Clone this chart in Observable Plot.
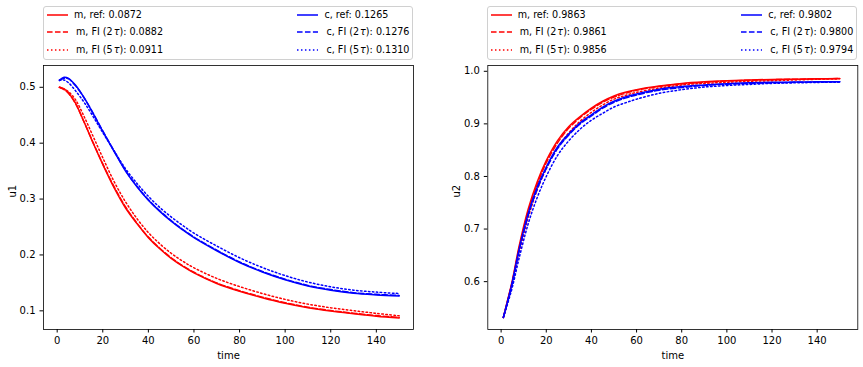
<!DOCTYPE html>
<html>
<head>
<meta charset="utf-8">
<script src="https://cdn.jsdelivr.net/npm/d3@7"></script>
<script src="https://cdn.jsdelivr.net/npm/@observablehq/plot@0.6"></script>
<style>
  html, body { margin: 0; padding: 0; background: white; }
  body { font-family: "DejaVu Sans", sans-serif; font-size: 10px; color: black; }
  #wrap { position: relative; width: 863px; height: 367px; overflow: hidden; }
  .panel { position: absolute; top: 0; }
  .legend { position: relative; height: 62px; }
  .lbox { position: absolute; border: 1px solid #d0d0d0; border-radius: 3px; box-sizing: border-box; }
  .entry { position: absolute; white-space: nowrap; line-height: 12px; font-size: 9.6px; }
  .handle { position: absolute; }
  .panel svg { display: block; }
</style>
</head>
<body>
<div id="wrap"></div>
<script>
// ---------- data ----------
const time = [1,3,5,8,12,16,20,25,30,35,40,45,50,55,60,70,80,90,100,110,120,130,140,150];

// left panel (u1)
const u1_m_ref = [0.500,0.497,0.490,0.472,0.436,0.398,0.362,0.320,0.284,0.256,0.231,0.211,0.194,0.180,0.168,0.149,0.135,0.1235,0.1135,0.1055,0.0995,0.0948,0.0905,0.0872];
const u1_m_fi2 = [0.500,0.496,0.489,0.471,0.436,0.399,0.363,0.322,0.286,0.257,0.232,0.212,0.195,0.181,0.169,0.150,0.136,0.1245,0.1145,0.1065,0.1005,0.0958,0.0915,0.0882];
const u1_m_fi5 = [0.500,0.497,0.492,0.478,0.446,0.410,0.374,0.331,0.295,0.265,0.240,0.220,0.203,0.189,0.177,0.158,0.1435,0.131,0.1205,0.112,0.1055,0.1003,0.0955,0.0911];
const u1_c_ref = [0.513,0.518,0.516,0.504,0.480,0.451,0.421,0.385,0.350,0.322,0.298,0.278,0.2605,0.245,0.231,0.2075,0.1865,0.1695,0.1555,0.1445,0.137,0.1315,0.1285,0.1265];
const u1_c_fi2 = [0.512,0.516,0.515,0.503,0.480,0.452,0.422,0.386,0.351,0.323,0.299,0.279,0.2615,0.246,0.232,0.2085,0.1875,0.1705,0.1565,0.1455,0.138,0.1325,0.1295,0.1276];
const u1_c_fi5 = [0.513,0.513,0.508,0.494,0.472,0.446,0.419,0.386,0.354,0.328,0.305,0.285,0.268,0.253,0.239,0.216,0.195,0.1775,0.163,0.1515,0.143,0.137,0.1335,0.1310];

// right panel (u2)
const u2_m_ref = [0.532,0.567,0.603,0.668,0.738,0.790,0.830,0.868,0.895,0.914,0.930,0.943,0.953,0.960,0.965,0.972,0.977,0.980,0.982,0.9835,0.9845,0.985,0.9858,0.9863];
const u2_m_fi2 = [0.532,0.566,0.601,0.664,0.733,0.785,0.826,0.864,0.892,0.912,0.928,0.941,0.951,0.958,0.964,0.971,0.976,0.979,0.9815,0.983,0.984,0.9848,0.9855,0.9861];
const u2_m_fi5 = [0.532,0.562,0.595,0.655,0.722,0.775,0.815,0.855,0.883,0.905,0.922,0.936,0.947,0.954,0.960,0.968,0.974,0.977,0.979,0.981,0.982,0.9835,0.9848,0.9856];
const u2_c_ref = [0.532,0.565,0.600,0.662,0.730,0.780,0.818,0.856,0.881,0.902,0.917,0.932,0.943,0.951,0.957,0.966,0.971,0.974,0.9765,0.978,0.979,0.9795,0.980,0.9802];
const u2_c_fi2 = [0.532,0.564,0.598,0.659,0.726,0.776,0.815,0.853,0.879,0.900,0.915,0.930,0.941,0.949,0.955,0.964,0.969,0.973,0.9755,0.977,0.978,0.979,0.9796,0.9800];
const u2_c_fi5 = [0.532,0.560,0.590,0.645,0.710,0.760,0.800,0.840,0.868,0.890,0.907,0.920,0.932,0.940,0.947,0.958,0.965,0.970,0.973,0.975,0.977,0.978,0.9788,0.9794];

const seriesKeys = ["m_ref","m_fi2","m_fi5","c_ref","c_fi2","c_fi5"];
const legendNames = ["m, ref", "m, FI (2\u200A<i>τ</i>)", "m, FI (5\u200A<i>τ</i>)", "c, ref", "c, FI (2\u200A<i>τ</i>)", "c, FI (5\u200A<i>τ</i>)"];
const u1Finals = ["0.0872","0.0882","0.0911","0.1265","0.1276","0.1310"];
const u2Finals = ["0.9863","0.9861","0.9856","0.9802","0.9800","0.9794"];
const xTicks = [0,20,40,60,80,100,120,140];
const u1Ticks = [0.1,0.2,0.3,0.4,0.5];
const u2Ticks = [0.6,0.7,0.8,0.9,1.0];

// ---------- styles ----------
const colorOf = {m_ref:"#ff0000", m_fi2:"#ff0000", m_fi5:"#ff0000", c_ref:"#0000ff", c_fi2:"#0000ff", c_fi5:"#0000ff"};
const dashOf = {m_ref:null, m_fi2:"5.55,2.4", m_fi5:"1.5,2.475", c_ref:null, c_fi2:"5.55,2.4", c_fi5:"1.5,2.475"};

function makeRows(arrs) {
  const rows = [];
  seriesKeys.forEach((k, i) => {
    arrs[i].forEach((v, j) => rows.push({series: k, t: time[j], v}));
  });
  return rows;
}

function buildLegend(cfg, finals) {
  const lg = document.createElement("div");
  lg.className = "legend";
  lg.style.width = cfg.width + "px";
  const box = document.createElement("div");
  box.className = "lbox";
  Object.assign(box.style, {left: cfg.boxL + "px", top: "6px", width: (cfg.boxR - cfg.boxL) + "px", height: "54px"});
  lg.appendChild(box);
  const rowsY = [15, 32.3, 50];
  seriesKeys.forEach((k, i) => {
    const col = i < 3 ? 0 : 1;
    const row = i % 3;
    const hx = cfg.handleX[col];
    const svgNS = "http://www.w3.org/2000/svg";
    const s = document.createElementNS(svgNS, "svg");
    s.setAttribute("width", 21); s.setAttribute("height", 4);
    s.setAttribute("class", "handle");
    s.style.left = hx + "px"; s.style.top = (rowsY[row] - 2) + "px";
    const ln = document.createElementNS(svgNS, "line");
    ln.setAttribute("x1", 0); ln.setAttribute("x2", 21); ln.setAttribute("y1", 2); ln.setAttribute("y2", 2);
    ln.setAttribute("stroke", colorOf[k]); ln.setAttribute("stroke-width", 1.5);
    if (dashOf[k]) ln.setAttribute("stroke-dasharray", dashOf[k]);
    s.appendChild(ln);
    lg.appendChild(s);
    const e = document.createElement("div");
    e.className = "entry";
    e.style.left = (cfg.textX[col] + (row > 0 ? 2 : 0)) + "px";
    e.style.top = (rowsY[row] - 6.5) + "px";
    e.innerHTML = legendNames[i] + ": " + finals[i];
    lg.appendChild(e);
  });
  return lg;
}

function buildPanel(opts) {
  const rows = makeRows(opts.arrs);
  const marks = [
    Plot.frame({stroke: "#000", strokeWidth: 0.8}),
    Plot.axisX({ticks: xTicks, tickSize: 3.5, tickPadding: 3.5, label: null, tickFormat: d3.format("d")}),
    Plot.axisY({ticks: opts.yTicks, tickSize: 3.5, tickPadding: 4.5, label: null, tickFormat: d3.format(".1f")}),
    Plot.text(["time"], {frameAnchor: "bottom", dy: 29, fontSize: 10}),
    Plot.text([opts.ylabel], {frameAnchor: "left", dx: opts.ylabelDx, rotate: -90, fontSize: 10})
  ];
  seriesKeys.forEach(k => {
    marks.push(Plot.line(rows.filter(r => r.series === k), {
      x: "t", y: "v", stroke: colorOf[k], strokeWidth: 1.5,
      strokeDasharray: dashOf[k] || undefined, curve: "catmull-rom"
    }));
  });
  return Plot.plot({
    width: opts.width,
    height: 305,
    marginTop: 3,
    marginBottom: 38,
    marginLeft: opts.ml,
    marginRight: opts.mr,
    style: {fontFamily: "DejaVu Sans", fontSize: "10px", background: "white", color: "black", overflow: "visible"},
    x: {domain: opts.xDomain},
    y: {domain: opts.yDomain},
    marks
  });
}

const wrap = document.getElementById("wrap");

// left panel
const p1 = document.createElement("div");
p1.className = "panel"; p1.style.left = "0px";
p1.appendChild(buildLegend({width: 431, boxL: 43, boxR: 413, handleX: [46.5, 297], textX: [74, 324.5]}, u1Finals));
p1.appendChild(buildPanel({
  arrs: [u1_m_ref,u1_m_fi2,u1_m_fi5,u1_c_ref,u1_c_fi2,u1_c_fi5],
  width: 431, ml: 43, mr: 18, xDomain: [-6.0, 156.3], yDomain: [0.0666, 0.539],
  yTicks: u1Ticks, ylabel: "u1", ylabelDx: -31
}));
wrap.appendChild(p1);

// right panel
const p2 = document.createElement("div");
p2.className = "panel"; p2.style.left = "431px";
p2.appendChild(buildLegend({width: 432, boxL: 56.3, boxR: 426.3, handleX: [60, 310], textX: [86.7, 337.3]}, u2Finals));
p2.appendChild(buildPanel({
  arrs: [u2_m_ref,u2_m_fi2,u2_m_fi5,u2_c_ref,u2_c_fi2,u2_c_fi5],
  width: 432, ml: 56.3, mr: 5.7, xDomain: [-5.9, 158.0], yDomain: [0.509, 1.011],
  yTicks: u2Ticks, ylabel: "u2", ylabelDx: -31
}));
wrap.appendChild(p2);
</script>
</body>
</html>
